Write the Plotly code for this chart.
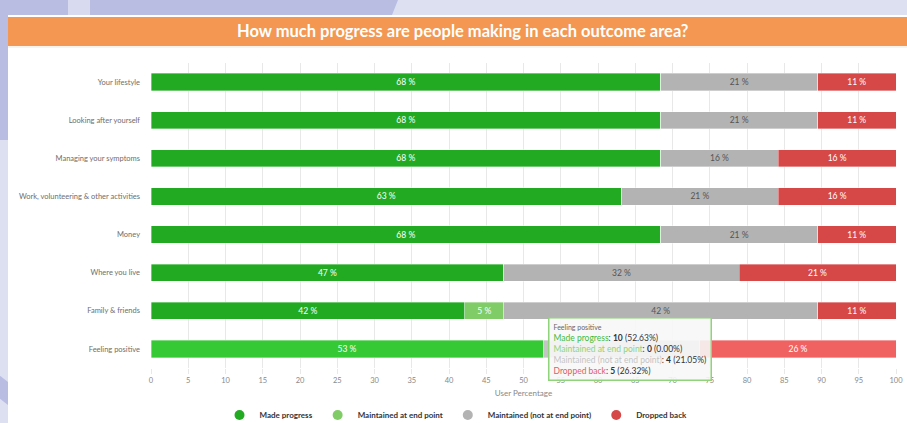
import plotly.graph_objects as go

categories = ["Your lifestyle", "Looking after yourself", "Managing your symptoms",
              "Work, volunteering & other activities", "Money", "Where you live",
              "Family & friends", "Feeling positive"]
made_progress = [68.42, 68.42, 68.42, 63.16, 68.42, 47.37, 42.11, 52.63]
maintained_end = [0, 0, 0, 0, 0, 0, 5.26, 0]
maintained_not_end = [21.05, 21.05, 15.79, 21.05, 21.05, 31.58, 42.11, 21.05]
dropped_back = [10.53, 10.53, 15.79, 15.79, 10.53, 21.05, 10.53, 26.32]
series_names = ["Made progress", "Maintained at end point",
                "Maintained (not at end point)", "Dropped back"]
x_ticks = list(range(0, 101, 5))

W, H = 907, 423
L, R, T, B = 151, 11, 63, 55
PW, PH = W - L - R, H - T - B


def px(x):
    return (x - L) / PW


def py(y):
    return (H - B - y) / PH


base_colors = ["#22ab22", "#80cc66", "#b3b3b3", "#d64848"]
hover_colors = ["#36c936", "#95dd7c", "#c4c4c4", "#f06262"]
text_colors = ["#ffffff", "#ffffff", "#555555", "#ffffff"]
highlight = "Feeling positive"

fig = go.Figure()
for i, (name, vals, bc, hc, tc) in enumerate(zip(series_names,
                                  [made_progress, maintained_end, maintained_not_end, dropped_back],
                                  base_colors, hover_colors, text_colors)):
    colors = [hc if c == highlight else bc for c in categories]
    # label under the tooltip (grey segment of the highlighted row) is hidden in the reference
    labels = [f"{round(v)} %" if v > 0 and not (c == highlight and i == 2) else ""
              for c, v in zip(categories, vals)]
    fig.add_trace(go.Bar(
        y=categories, x=vals, orientation="h", name=name,
        marker=dict(color=colors, line=dict(color="rgba(255,255,255,0.6)", width=0.6)),
        text=labels, textposition="inside", insidetextanchor="middle",
        textfont=dict(family="Lato", size=8.5, color=tc),
        showlegend=False, hoverinfo="skip",
    ))
    fig.add_trace(go.Scatter(
        x=[None], y=[None], mode="markers", name=name,
        marker=dict(symbol="circle", size=10, color=bc),
        showlegend=True,
    ))

shapes = [
    dict(type="rect", xref="paper", yref="paper", x0=px(8), x1=px(W + 5), y0=py(H + 5), y1=py(15),
         fillcolor="#ffffff", line=dict(width=0), layer="below"),
    dict(type="rect", xref="paper", yref="paper", x0=px(-5), x1=px(8), y0=py(140), y1=py(-5),
         fillcolor="#b8bde1", line=dict(width=0), layer="below"),
    dict(type="path", xref="paper", yref="paper",
         path=f"M {px(-5)},{py(-5)} L {px(400)},{py(-5)} L {px(392)},{py(15)} L {px(-5)},{py(15)} Z",
         fillcolor="#b8bde1", line=dict(width=0), layer="below"),
    dict(type="rect", xref="paper", yref="paper", x0=px(68), x1=px(90), y0=py(15), y1=py(-5),
         fillcolor="#d8dbf0", line=dict(width=0), layer="below"),
    dict(type="path", xref="paper", yref="paper",
         path=f"M {px(-5)},{py(372)} L {px(8)},{py(382)} L {px(8)},{py(405)} L {px(-5)},{py(395)} Z",
         fillcolor="#b8bde1", line=dict(width=0), layer="below"),
    dict(type="rect", xref="paper", yref="paper", x0=px(8), x1=px(W + 5), y0=py(46), y1=py(17),
         fillcolor="#f39752", line=dict(width=0), layer="below"),
    dict(type="line", xref="paper", yref="paper", x0=px(8), x1=px(W + 5), y0=py(47), y1=py(47),
         line=dict(color="#f3e6dc", width=1), layer="below"),
]

tooltip = (
    "<span style='font-size:7px;color:#666666'>Feeling positive</span><br>"
    "<span style='color:#3dbb3d'>Made progress</span>: <b>10</b> (52.63%)<br>"
    "<span style='color:#8fd47a'>Maintained at end point</span>: <b>0</b> (0.00%)<br>"
    "<span style='color:#c4c4c4'>Maintained (not at end point)</span>: <b>4</b> (21.05%)<br>"
    "<span style='color:#e06060'>Dropped back</span>: <b>5</b> (26.32%)"
)

annotations = [
    dict(text="How much progress are people making in each outcome area?",
         xref="paper", yref="paper", x=px(462), y=py(31), xanchor="center", yanchor="middle",
         showarrow=False, font=dict(family="Lato", size=16.5, color="#ffffff", weight="bold")),
    dict(text=tooltip, xref="paper", yref="paper", x=px(548), y=py(317),
         xanchor="left", yanchor="top", align="left", showarrow=False,
         font=dict(family="Lato", size=8.5, color="#333333"),
         bgcolor="rgba(247,247,247,0.9)", bordercolor="#8fd47a", borderwidth=1.5, borderpad=4),
]

fig.update_layout(
    width=W, height=H,
    margin=dict(l=L, r=R, t=T, b=B, autoexpand=False),
    barmode="stack", bargap=0.55,
    paper_bgcolor="#dde0f1", plot_bgcolor="#ffffff",
    font=dict(family="Lato", color="#666666"),
    shapes=shapes, annotations=annotations,
    legend=dict(orientation="h", x=px(456), xanchor="center", y=py(415), yanchor="middle",
                traceorder="normal",
                font=dict(family="Lato", size=8, color="#333333", weight="bold"),
                itemwidth=30, bgcolor="rgba(0,0,0,0)"),
    xaxis=dict(range=[0, 100], tickvals=x_ticks, ticktext=[str(t) for t in x_ticks],
               showgrid=True, gridcolor="#e8e8e8", gridwidth=1, zeroline=False,
               ticks="outside", ticklen=5, tickcolor="#e8e8e8",
               tickfont=dict(family="Lato", size=7.5, color="#888888"),
               title=dict(text="User Percentage", font=dict(family="Lato", size=8, color="#888888"),
                          standoff=6)),
    yaxis=dict(categoryorder="array", categoryarray=categories, autorange="reversed",
               showgrid=False, zeroline=False, ticks="", ticklabelstandoff=10,
               tickfont=dict(family="Lato", size=7.5, color="#6e6e6e")),
)

fig.write_html("out.html", config={"displayModeBar": False},
               post_script="document.body.style.margin='0';document.body.style.overflow='hidden';")
